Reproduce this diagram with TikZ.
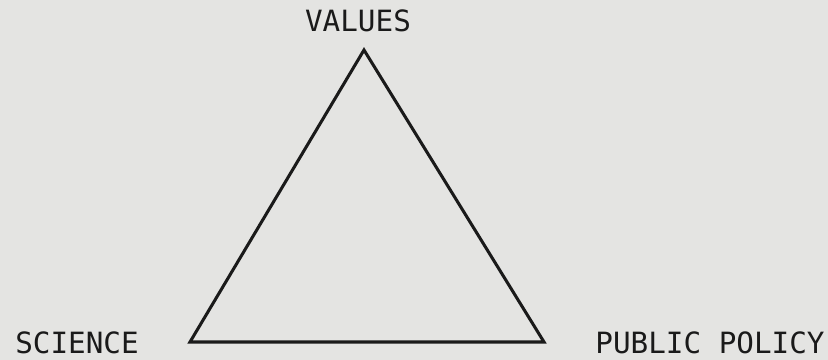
\documentclass[tikz,border=0pt]{standalone}
\usepackage{fontspec}
\usepackage{xcolor}
\usepackage{tikz}
\newfontfamily\labelfont{DejaVu Sans Mono}
\definecolor{PageGray}{HTML}{E4E4E2}
\definecolor{InkBlack}{HTML}{1A1A1A}
\tikzset{
  cornerlabel/.style={anchor=base,inner sep=0pt,text=InkBlack,font=\labelfont\fontsize{25}{28}\selectfont},
  triline/.style={draw=InkBlack,line width=2.6pt,line join=miter}
}

\begin{document}
\begin{tikzpicture}[x=0.03cm,y=0.03cm]
\path[use as bounding box,fill=PageGray] (0,0) rectangle (828,360);
\coordinate (top) at (364,310);
\coordinate (left) at (190,18);
\coordinate (right) at (544,18);
\draw[triline] (top) -- (left) -- (right) -- cycle;
\node[cornerlabel] (values) at (358,328) {VALUES};
\node[cornerlabel] (science) at (77,6) {SCIENCE};
\node[cornerlabel] (policy) at (710,6) {PUBLIC POLICY};
\end{tikzpicture}
\end{document}
